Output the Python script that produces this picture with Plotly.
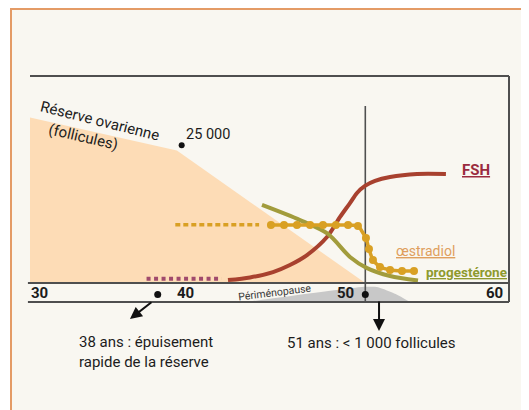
import plotly.graph_objects as go

# ---------------- data ----------------
AGE_MIN, AGE_MAX = 30, 60
TICK_VALUES = [30, 40, 50, 60]
TICK_LABELS = ["30", "40", "50", "60"]

LEVEL_TOP = 100          # top frame line
BAND_BOTTOM = -9.2       # bottom of the age band

# Ovarian reserve (relative level)
RESERVE_AGE = [30, 39.2, 51]
RESERVE_LEVEL = [80, 64, 0]
RESERVE_MARK_AGE, RESERVE_MARK_LEVEL = 39.5, 66.5

# FSH
FSH_TREND_AGE = [37.3, 42.0]
FSH_TREND_LEVEL = [2, 2]
FSH_AGE = [42.4, 43.78, 45.22, 46.28, 47.35, 48.6, 49.42, 50.04, 50.48, 50.98, 51.61, 52.55, 54.24, 56.05]
FSH_LEVEL = [1.4, 2.7, 5.3, 8.7, 13.5, 22.2, 31.9, 38.6, 43.5, 46.9, 49.3, 51.2, 52.7, 52.7]

# Oestradiol
E2_TREND_AGE = [39.1, 44.35]
E2_TREND_LEVEL = [28.2, 28.2]
E2_AGE = [45.09, 45.91, 46.72, 47.54, 48.35, 49.16, 49.92, 50.54, 51.04, 51.23, 51.48, 51.92, 52.55, 53.30, 54.05]
E2_LEVEL = [28.0, 28.0, 28.0, 28.0, 28.0, 28.0, 28.0, 27.5, 21.7, 16.4, 11.1, 7.7, 6.3, 5.8, 5.8]

# Progesterone
PROG_AGE = [44.53, 46.91, 48.66, 50.04, 51.11, 52.55, 54.30]
PROG_LEVEL = [37.7, 30.4, 23.7, 12.6, 7.2, 3.4, 1.2]

# Perimenopause wedge (inside the age band)
PERI_AGE = [43.5, 50.8, 51.8, 52.9, 53.8]
PERI_LEVEL = [-9.2, -1.9, -2.0, -5.3, -9.2]

DEPLETION_AGE = 38
MENOPAUSE_AGE = 51
EVENT_LEVEL = -5.5
MENO_LINE_TOP = 85.5

# ---------------- styles ----------------
FONT = "Roboto, Liberation Sans, sans-serif"
C_TEXT = "#1c1c1c"
C_FRAME = "#4f4f4f"
C_FILL = "#fddcb6"
C_FSH = "#a8412f"
C_FSH_TREND = "#a04a6c"
C_E2 = "#d9a024"
C_PROG = "#a29c3c"
C_BG = "#f9f7f1"
C_BORDER = "#e49b66"

fig = go.Figure()

fig.add_trace(go.Scatter(x=RESERVE_AGE, y=RESERVE_LEVEL, mode="lines", fill="tozeroy",
                         fillcolor=C_FILL, line=dict(width=0, color=C_FILL), hoverinfo="skip"))

fig.add_trace(go.Scatter(x=PERI_AGE, y=PERI_LEVEL, mode="lines", fill="toself",
                         fillcolor="#c8c8c8", line=dict(width=0, color="#c8c8c8", shape="spline", smoothing=0.5)))

fig.add_trace(go.Scatter(x=[MENOPAUSE_AGE, MENOPAUSE_AGE], y=[MENO_LINE_TOP, BAND_BOTTOM], mode="lines",
                         line=dict(color="#505050", width=1.6)))

fig.add_trace(go.Scatter(x=FSH_TREND_AGE, y=FSH_TREND_LEVEL, mode="lines",
                         line=dict(color=C_FSH_TREND, width=4, dash="4px,3.5px")))
fig.add_trace(go.Scatter(x=FSH_AGE, y=FSH_LEVEL, mode="lines",
                         line=dict(color=C_FSH, width=4, shape="spline", smoothing=0.8)))

fig.add_trace(go.Scatter(x=PROG_AGE, y=PROG_LEVEL, mode="lines",
                         line=dict(color=C_PROG, width=4, shape="spline", smoothing=0.8)))

fig.add_trace(go.Scatter(x=E2_TREND_AGE, y=E2_TREND_LEVEL, mode="lines",
                         line=dict(color=C_E2, width=3.5, dash="5px,3px")))
fig.add_trace(go.Scatter(x=E2_AGE, y=E2_LEVEL, mode="lines+markers",
                         line=dict(color=C_E2, width=3.5, shape="spline", smoothing=0.5),
                         marker=dict(color=C_E2, size=8)))

# event dots
fig.add_trace(go.Scatter(x=[DEPLETION_AGE, MENOPAUSE_AGE], y=[EVENT_LEVEL, EVENT_LEVEL], mode="markers",
                         marker=dict(color="#111111", size=7)))
fig.add_trace(go.Scatter(x=[RESERVE_MARK_AGE], y=[RESERVE_MARK_LEVEL], mode="markers",
                         marker=dict(color="#111111", size=6)))

shapes = [
    # page background with orange border
    dict(type="rect", xref="paper", yref="paper", x0=3 / 529, x1=1.05, y0=-0.05, y1=1 - 1 / 410,
         line=dict(color=C_BORDER, width=2), fillcolor=C_BG, layer="below"),
    # frame
    dict(type="line", xref="x", yref="y", x0=AGE_MIN, x1=AGE_MAX, y0=LEVEL_TOP, y1=LEVEL_TOP,
         line=dict(color=C_FRAME, width=2)),
    dict(type="line", xref="x", yref="y", x0=AGE_MAX, x1=AGE_MAX, y0=LEVEL_TOP, y1=BAND_BOTTOM,
         line=dict(color=C_FRAME, width=2)),
    dict(type="line", xref="x", yref="y", x0=AGE_MIN - 0.13, x1=AGE_MAX, y0=0, y1=0,
         line=dict(color=C_FRAME, width=2)),
    dict(type="line", xref="x", yref="y", x0=AGE_MIN - 0.13, x1=AGE_MAX, y0=BAND_BOTTOM, y1=BAND_BOTTOM,
         line=dict(color=C_FRAME, width=2)),
]

annotations = []
for i, (v, lab) in enumerate(zip(TICK_VALUES, TICK_LABELS)):
    if i == 0:
        anchor, shift = "left", -1
    elif i == len(TICK_VALUES) - 1:
        anchor, shift = "right", -4
    else:
        anchor, shift = "center", -4
    annotations.append(dict(x=v, y=-4.8, xref="x", yref="y", text="<b>%s</b>" % lab, showarrow=False,
                            xanchor=anchor, yanchor="middle", xshift=shift,
                            font=dict(family=FONT, size=15, color=C_TEXT)))

def txt(x, y, t, size, color=C_TEXT, anchor="center", angle=0, align="center"):
    annotations.append(dict(x=x, y=y, xref="x", yref="y", text=t, showarrow=False, xanchor=anchor,
                            yanchor="middle", textangle=angle, align=align,
                            font=dict(family=FONT, size=size, color=color)))

txt(34.38, 78.3, "Réserve ovarienne", 15, angle=14)
txt(33.32, 70.5, "(follicules)", 15, angle=13)
txt(41.15, 71.5, "25 000", 14.5)
txt(56.93, 54.6, "<b><u>FSH</u></b>", 15, color="#9b2b3f", anchor="left")
txt(52.80, 15.5, "<u>œstradiol</u>", 14, color="#df9f5e", anchor="left")
txt(54.68, 5.3, "<b><u>progestérone</u></b>", 13.5, color="#8e9a2e", anchor="left")
txt(45.34, -4.4, "Périménopause", 10.5, color="#3a3a3a", angle=-7)
txt(32.94, -33.3, "38 ans : épuisement<br>rapide de la réserve", 15, anchor="left", align="left")
txt(51.36, -29.0, "51 ans : &lt; 1 000 follicules", 15)

# arrows
annotations.append(dict(x=36.26, y=-17.4, ax=37.70, ay=-8.7, xref="x", yref="y", axref="x", ayref="y",
                        text="", showarrow=True, arrowhead=2, arrowsize=1.2, arrowwidth=2, arrowcolor="#111111"))
annotations.append(dict(x=51.86, y=-23.2, ax=51.86, ay=-8.2, xref="x", yref="y", axref="x", ayref="y",
                        text="", showarrow=True, arrowhead=2, arrowsize=1.2, arrowwidth=2, arrowcolor="#111111"))

fig.update_layout(
    width=529, height=410, autosize=False,
    margin=dict(l=0, r=0, t=0, b=0),
    paper_bgcolor="white", plot_bgcolor="rgba(0,0,0,0)",
    showlegend=False,
    xaxis=dict(range=[28.6221, 61.7537], visible=False, fixedrange=True),
    yaxis=dict(range=[-65.217, 132.850], visible=False, fixedrange=True),
    shapes=shapes, annotations=annotations,
)

fig.write_html("out.html")
